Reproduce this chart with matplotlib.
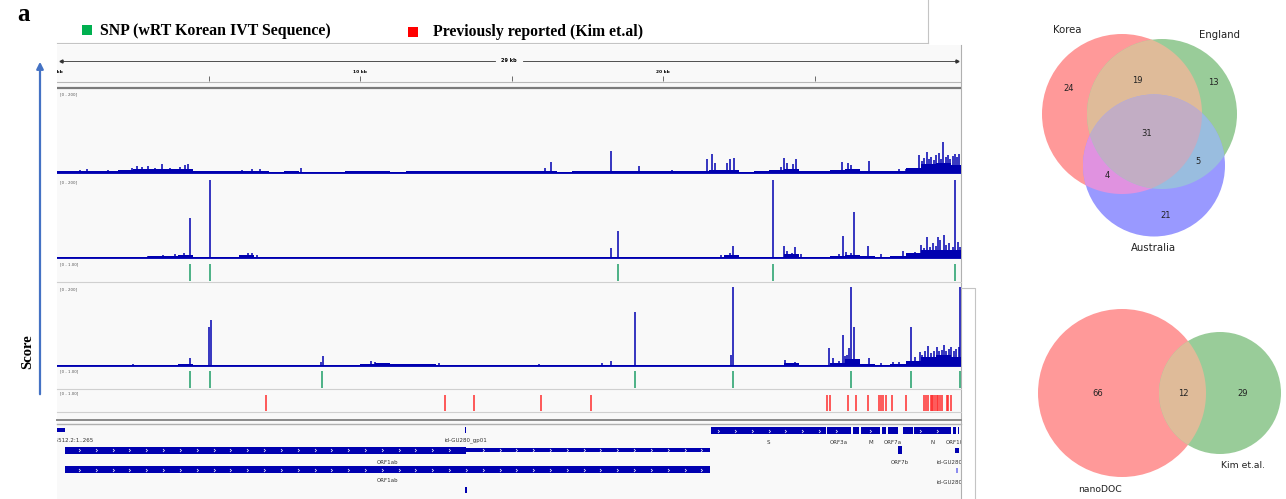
import numpy as np
import matplotlib
matplotlib.use('Agg')
from matplotlib import pyplot as plt
from matplotlib.path import Path
from matplotlib.patches import Circle, Polygon, Rectangle

W, H = 1286, 499
GENOME_KB = 29.83
BLUE = '#0000b0'
GREEN = '#1f9e68'
RED = '#ff2d2d'

# ---- coverage tracks (score, 0.5 kb floor bins + individual peaks, kb) ----
bin_start = np.arange(0, 30, 0.5)
floor_1 = [5, 6, 7, 6, 8, 10, 10, 11, 11, 5,
           5, 5, 7, 6, 4, 5, 4, 4, 4, 5,
           5, 5, 4, 5, 5, 5, 5, 6, 6, 5,
           5, 5, 7, 4, 5, 5, 6, 5, 6, 5,
           5, 5, 6, 9, 8, 4, 5, 8, 11, 5,
           5, 9, 11, 6, 5, 5, 13, 24, 25, 22]
peaks_1 = [(0.76, 8), (0.98, 10), (1.68, 8), (2.48, 14), (2.64, 18), (2.8, 16),
           (3.0, 18), (3.23, 14), (3.47, 24), (3.73, 14), (4.06, 16), (4.22, 20),
           (4.32, 24), (6.1, 8), (6.44, 10), (6.7, 10), (6.96, 6), (8.05, 14),
           (10.16, 6), (14.0, 7), (16.1, 14), (16.3, 28), (18.28, 56), (19.2, 19),
           (20.3, 9), (21.45, 36), (21.6, 47), (21.7, 26), (22.1, 25), (22.2, 35),
           (22.35, 39), (23.9, 17), (24.0, 38), (24.1, 25), (24.3, 24), (24.4, 35),
           (25.9, 28), (26.1, 25), (26.2, 20), (26.8, 30), (27.8, 10), (28.0, 12),
           (28.45, 45), (28.55, 30), (28.62, 38), (28.7, 52), (28.78, 35),
           (28.85, 40), (28.95, 32), (29.02, 45), (29.1, 50), (29.18, 35),
           (29.25, 78), (29.32, 40), (29.4, 45), (29.48, 35), (29.55, 42),
           (29.62, 48), (29.7, 40), (29.78, 48)]

floor_2 = [4, 4, 4, 4, 5, 6, 7, 8, 9, 4,
           5, 5, 9, 5, 4, 4, 4, 4, 4, 4,
           4, 4, 4, 4, 4, 4, 4, 4, 5, 4,
           4, 5, 4, 4, 4, 4, 5, 4, 4, 4,
           4, 4, 4, 5, 9, 4, 5, 5, 12, 5,
           5, 8, 11, 7, 5, 7, 14, 22, 24, 22]
peaks_2 = [(0.8, 5), (3.0, 8), (3.5, 10), (3.9, 12), (4.2, 15), (4.39, 104),
           (5.06, 215), (6.3, 14), (6.45, 16), (6.6, 10), (14.4, 6), (17.0, 5),
           (18.28, 27), (18.5, 72), (21.9, 9), (22.2, 15), (22.3, 33),
           (23.64, 215), (24.0, 33), (24.1, 20), (24.25, 15), (24.35, 30),
           (24.55, 12), (25.8, 12), (25.93, 59), (26.05, 18), (26.2, 14),
           (26.31, 120), (26.75, 34), (27.2, 12), (27.9, 21), (28.1, 14),
           (28.3, 18), (28.5, 36), (28.6, 28), (28.7, 56), (28.8, 30), (28.9, 40),
           (29.0, 34), (29.07, 56), (29.15, 48), (29.27, 62), (29.35, 35),
           (29.45, 40), (29.55, 30), (29.64, 215), (29.74, 44), (29.8, 30)]

floor_3 = [4, 4, 4, 4, 4, 4, 4, 5, 6, 4,
           4, 4, 4, 4, 4, 4, 4, 4, 4, 4,
           7, 10, 6, 6, 6, 5, 5, 5, 5, 5,
           5, 5, 5, 4, 4, 4, 5, 4, 4, 4,
           4, 4, 4, 4, 5, 4, 4, 4, 9, 4,
           4, 10, 18, 7, 5, 6, 14, 25, 28, 25]
peaks_3 = [(2.5, 6), (4.39, 22), (5.0, 100), (5.07, 117), (8.7, 12), (8.77, 27),
           (10.35, 15), (10.5, 12), (10.7, 10), (12.6, 8), (15.9, 7), (18.0, 10),
           (18.28, 14), (19.08, 138), (22.25, 30), (22.32, 215), (24.03, 17),
           (24.15, 10), (24.36, 12), (25.47, 46), (25.6, 22), (25.8, 14),
           (25.93, 80), (26.0, 26), (26.08, 30), (26.13, 46), (26.2, 215),
           (26.31, 99), (26.4, 20), (26.78, 22), (27.2, 10), (27.6, 12),
           (27.8, 12), (28.19, 100), (28.3, 25), (28.48, 36), (28.55, 30),
           (28.65, 40), (28.75, 52), (28.85, 35), (28.95, 40), (29.04, 48),
           (29.12, 38), (29.2, 42), (29.27, 54), (29.35, 38), (29.42, 45),
           (29.5, 50), (29.6, 40), (29.68, 44), (29.75, 50), (29.8, 215)]

# ---- SNP sites (kb) ----
snp_sample_1 = [4.39, 5.06, 18.51, 23.63, 29.64]
snp_sample_2 = [4.39, 5.06, 8.75, 19.08, 22.31, 26.2, 28.19, 29.8]
kim_sites = [6.90, 12.81, 13.76, 15.97, 17.62, 25.41, 25.51, 26.11, 26.37, 26.77,
             27.13, 27.19, 27.26, 27.36, 27.56, 28.02, 28.61, 28.68, 28.75, 28.84,
             28.88, 28.91, 28.98, 29.04, 29.08, 29.14, 29.21, 29.37, 29.41, 29.50]

# ---- gene annotation (kb) ----
row1_genes = [('S', 21.563, 25.384), ('ORF3a', 25.393, 26.220), ('E', 26.245, 26.472),
              ('M', 26.523, 27.191), ('ORF6', 27.202, 27.387), ('ORF7a', 27.394, 27.759),
              ('ORF8', 27.894, 28.259), ('N', 28.274, 29.533), ('ORF10', 29.558, 29.674),
              ('tail', 29.72, 29.80)]
row1_labels = ['S', 'ORF3a', 'M', 'ORF7a', 'N', 'ORF10']
orf1ab = (0.266, 13.483, 21.555)
orf7b = (27.756, 27.887)

# ---- Venn counts ----
venn3_counts = {'24': 'K', '13': 'E', '21': 'A', '19': 'KE', '4': 'KA', '5': 'EA', '31': 'KEA'}
venn3_labels = ['Korea', 'England', 'Australia']
venn2_counts = ['66', '12', '29']
venn2_labels = ['nanoDOC', 'Kim et.al.']

fig = plt.figure(figsize=(W / 100, H / 100), dpi=100)


def box(x0, y0, x1, y1):
    return [x0 / W, 1 - y1 / H, (x1 - x0) / W, (y1 - y0) / H]


# page-level layer in pixel units (frames, legend, arrow, venn diagrams)
deco = fig.add_axes([0, 0, 1, 1])
deco.set_xlim(0, W)
deco.set_ylim(H, 0)
deco.axis('off')
deco.add_patch(Rectangle((57, 45), 904, 454, fc='#f9f9f9', ec='none'))
deco.plot([57, 928], [43, 43], color='#c4c4c4', lw=0.8)
deco.plot([928, 928], [0, 43], color='#c4c4c4', lw=0.8)
deco.plot([961, 961], [45, 499], color='#b0b0b0', lw=0.8)
deco.plot([961, 975, 975], [288, 288, 499], color='#c4c4c4', lw=0.8)
for yy in (282, 389, 412):
    deco.plot([57, 961], [yy, yy], color='#d0d0d0', lw=0.8)
deco.plot([57, 961], [420, 420], color='#8a8a8a', lw=1.4)
deco.plot([57, 961], [423.5, 423.5], color='#b0b0b0', lw=1.0)

serif = 'Liberation Serif'
deco.text(17, 14, 'a', fontfamily=serif, fontweight='bold', fontsize=18, va='center')
deco.add_patch(Rectangle((82, 25), 10, 10, fc='#00b050', ec='none'))
deco.text(100, 31, 'SNP (wRT Korean IVT Sequence)', fontfamily=serif,
          fontweight='bold', fontsize=11.4, va='center')
deco.add_patch(Rectangle((408, 27), 10, 10, fc='#ff0000', ec='none'))
deco.text(433, 32, 'Previously reported (Kim et.al)', fontfamily=serif,
          fontweight='bold', fontsize=11.3, va='center')
deco.annotate('', xy=(40, 59), xytext=(40, 397),
              arrowprops=dict(arrowstyle='-|>', color='#4472c4', lw=1.6, mutation_scale=10))
deco.text(28, 352, 'Score', fontfamily=serif, fontweight='bold', fontsize=10.5,
          rotation=90, ha='center', va='center')


def track_axes(y0, y1, ymax):
    ax = fig.add_axes(box(57, y0, 961, y1))
    ax.set_xlim(0, GENOME_KB)
    ax.set_ylim(0, ymax)
    ax.axis('off')
    return ax


def small_label(ax, s):
    ax.text(0.003, 0.99, s, transform=ax.transAxes, fontsize=2.8, color='#555555',
            va='top', ha='left')


# ruler
ruler = fig.add_axes(box(57, 45, 961, 90))
ruler.set_xlim(0, GENOME_KB)
ruler.set_ylim(90, 45)
ruler.axis('off')
mid = GENOME_KB / 2
ruler.plot([0.1, mid - 0.45], [61, 61], color='#333333', lw=0.6)
ruler.plot([mid + 0.45, GENOME_KB - 0.1], [61, 61], color='#333333', lw=0.6)
ruler.plot([0.12], [61], marker='<', ms=2.2, color='#333333')
ruler.plot([GENOME_KB - 0.12], [61], marker='>', ms=2.2, color='#333333')
ruler.text(mid, 61, '29 kb', fontsize=3.6, fontweight='bold', ha='center', va='center')
ruler.vlines([5, 10, 15, 20, 25], 76, 81, color='#555555', lw=0.6)
for k in (0, 10, 20):
    ruler.text(k, 72, '%d kb' % k, fontsize=3.2, fontweight='bold', ha='center',
               va='center', clip_on=True)
ruler.plot([0, GENOME_KB], [82, 82], color='#b8b8b8', lw=0.8)
ruler.plot([0, GENOME_KB], [87.5, 87.5], color='#7a7a7a', lw=1.6)


def coverage(y0, y1, floor, peaks):
    ax = track_axes(y0, y1, 200)
    ax.bar(bin_start, floor, width=0.5, align='edge', color=BLUE, lw=0)
    px, py = zip(*peaks)
    ax.vlines(px, 0, py, color=BLUE, lw=1.1)
    ax.axhline(0, color='#6a6ad8', lw=1.0)
    small_label(ax, '[0 - 200]')


coverage(92, 173.5, floor_1, peaks_1)
coverage(180, 259, floor_2, peaks_2)
coverage(287, 366.5, floor_3, peaks_3)


def sites(y0, y1, xs, color, ymax):
    ax = track_axes(y0, y1, ymax)
    ax.vlines(xs, 0, 1, color=color, lw=1.1)
    small_label(ax, '[0 - 1.00]')


sites(262, 281, snp_sample_1, GREEN, 1.1)
sites(369, 388, snp_sample_2, GREEN, 1.1)
sites(391, 411, kim_sites, RED, 1.22)

# gene annotation track
genes = fig.add_axes(box(57, 424, 961, 499))
genes.set_xlim(0, GENOME_KB)
genes.set_ylim(499, 424)
genes.axis('off')
chev = Path([(-1, 1), (0, 0), (-1, -1)], [Path.MOVETO, Path.LINETO, Path.LINETO])
grid = np.arange(0.76, 30, 0.555)


def feature(s, e, y0, y1, arrows=True):
    genes.add_patch(Rectangle((s, y0), e - s, y1 - y0, fc=BLUE, ec='none'))
    if arrows:
        xs = grid[(grid > s + 0.15) & (grid < e - 0.15)]
        genes.plot(xs, [(y0 + y1) / 2] * len(xs), ls='none', marker=chev, ms=2.2,
                   mec='white', mfc='none', mew=0.5)


def glabel(x, y, s):
    genes.text(x, y, s, fontsize=4, color='#333333', ha='center', va='center', clip_on=True)


feature(0.0, 0.265, 428, 432, arrows=False)
feature(13.46, 13.51, 427, 433, arrows=False)
for name, s, e in row1_genes:
    feature(s + 0.02, e - 0.02, 427, 434)
    if name in row1_labels:
        glabel((s + e) / 2, 443, name)
glabel(0.3, 440, 'NC_045512.2:1..265')
glabel(13.48, 440, 'id-GU280_gp01')

feature(orf1ab[0], orf1ab[1], 446.5, 453.5)
feature(orf1ab[1], orf1ab[2], 448.3, 451.7)
feature(orf7b[0], orf7b[1], 446, 454, arrows=False)
feature(29.64, 29.78, 447.5, 452.5, arrows=False)
glabel((orf1ab[0] + orf1ab[2]) / 2, 462, 'ORF1ab')
glabel((orf7b[0] + orf7b[1]) / 2, 462.5, 'ORF7b')
glabel(29.72, 462.5, 'id-GU280_gp11')

feature(orf1ab[0], orf1ab[2], 466, 473)
genes.add_patch(Rectangle((29.68, 467.5), 0.05, 5, fc='#8c8cf0', ec='none'))
glabel((orf1ab[0] + orf1ab[2]) / 2, 481, 'ORF1ab')
glabel(29.72, 482, 'id-GU280_gp11')
feature(13.47, 13.52, 487, 492.5, arrows=False)


# ---- Venn diagrams ----
def lens(circles):
    t = np.linspace(0, 2 * np.pi, 1441)
    pts = []
    for cx, cy, r in circles:
        p = np.column_stack([cx + r * np.cos(t), cy + r * np.sin(t)])
        keep = np.ones(len(p), bool)
        for ox, oy, orr in circles:
            keep &= np.hypot(p[:, 0] - ox, p[:, 1] - oy) <= orr + 1e-6
        pts.append(p[keep])
    pts = np.vstack(pts)
    c = pts.mean(axis=0)
    return pts[np.argsort(np.arctan2(pts[:, 1] - c[1], pts[:, 0] - c[0]))]


K = (1122, 114, 80)
E = (1162, 114, 75)
A = (1154, 165.5, 71)
for (cx, cy, r), col in [(K, '#ff9999'), (E, '#99cc99'), (A, '#9999ff')]:
    deco.add_patch(Circle((cx, cy), r, fc=col, ec='none'))
for cs, col in [((K, E), '#dfbb99'), ((K, A), '#e092e0'), ((E, A), '#99bddf'),
                ((K, E, A), '#c2adc4')]:
    deco.add_patch(Polygon(lens(cs), closed=True, fc=col, ec='none'))

venn3_pos = {'K': (1069, 88), 'E': (1213, 82), 'A': (1166, 216), 'KE': (1137, 80),
             'KA': (1107, 176), 'EA': (1198, 162), 'KEA': (1147, 134)}
for num, region in venn3_counts.items():
    x, y = venn3_pos[region]
    deco.text(x, y, num, fontsize=6, color='#222222', ha='center', va='center')
for name, (x, y) in zip(venn3_labels, [(1067, 30), (1220, 35), (1153, 248)]):
    deco.text(x, y, name, fontsize=7.3, color='#222222', ha='center', va='center')

N1 = (1122, 393, 84)
N2 = (1220, 393, 61)
deco.add_patch(Circle(N1[:2], N1[2], fc='#ff9999', ec='none'))
deco.add_patch(Circle(N2[:2], N2[2], fc='#99cc99', ec='none'))
deco.add_patch(Polygon(lens((N1, N2)), closed=True, fc='#dfbb99', ec='none'))
for num, x in zip(venn2_counts, [1098, 1183, 1243]):
    deco.text(x, 393, num, fontsize=6, color='#222222', ha='center', va='center')
for name, (x, y) in zip(venn2_labels, [(1100, 489), (1243, 466)]):
    deco.text(x, y, name, fontsize=6.7, color='#222222', ha='center', va='center')

fig.savefig('out.png', dpi=100)
